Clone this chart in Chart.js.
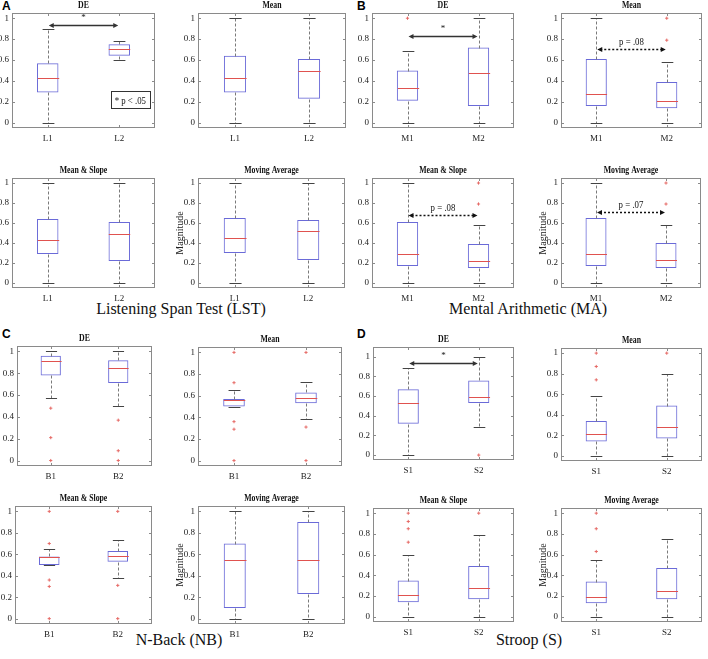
<!DOCTYPE html>
<html>
<head>
<meta charset="utf-8">
<script src="https://cdn.jsdelivr.net/npm/chart.js@4.4.1/dist/chart.umd.min.js"></script>
<style>
  body { margin: 0; width: 708px; height: 659px; background: #fff; position: relative; overflow: hidden; }
  canvas { position: absolute; }
  .letter { position: absolute; font: bold 12px "Liberation Sans", Arial, sans-serif; color: #000; }
  .task { position: absolute; font: 16px "Liberation Serif", serif; color: #111; white-space: nowrap; transform: translateX(-50%); }
</style>
</head>
<body>
<div class="letter" style="left:2px;top:-1px">A</div>
<div class="letter" style="left:357px;top:-1px">B</div>
<div class="letter" style="left:2px;top:327px">C</div>
<div class="letter" style="left:357px;top:327px">D</div>
<div class="task" style="left:181px;top:300px">Listening Span Test (LST)</div>
<div class="task" style="left:528px;top:300px">Mental Arithmetic (MA)</div>
<div class="task" style="left:179px;top:631px">N-Back (NB)</div>
<div class="task" style="left:529px;top:631px">Stroop (S)</div>

<script>
// box stats per group: [lower whisker, q1, median, q3, upper whisker]
const yTicks = [0, 0.2, 0.4, 0.6, 0.8, 1];

const lstCats = ['L1', 'L2'];
const lstDE = [[0.00, 0.29, 0.43, 0.57, 0.90], [0.60, 0.64, 0.71, 0.75, 0.78]];
const lstDEOut = [[], []];
const lstMean = [[0.00, 0.29, 0.43, 0.64, 1.00], [0.00, 0.23, 0.50, 0.61, 1.00]];
const lstMeanOut = [[], []];
const lstMS = [[0.00, 0.29, 0.43, 0.64, 1.00], [0.00, 0.22, 0.49, 0.61, 1.00]];
const lstMSOut = [[], []];
const lstMA = [[0.00, 0.30, 0.45, 0.65, 1.00], [0.00, 0.23, 0.52, 0.63, 1.00]];
const lstMAOut = [[], []];

const maCats = ['M1', 'M2'];
const maDE = [[0.00, 0.21, 0.33, 0.50, 0.69], [0.00, 0.16, 0.48, 0.72, 1.00]];
const maDEOut = [[1.00], []];
const maMean = [[0.00, 0.16, 0.28, 0.61, 1.00], [0.00, 0.14, 0.21, 0.39, 0.58]];
const maMeanOut = [[], [0.79, 1.00]];
const maMS = [[0.00, 0.17, 0.29, 0.61, 1.00], [0.00, 0.15, 0.22, 0.39, 0.58]];
const maMSOut = [[], [0.79, 1.00]];
const maMA = [[0.00, 0.17, 0.29, 0.65, 1.00], [0.00, 0.15, 0.23, 0.40, 0.58]];
const maMAOut = [[], [0.79, 1.00]];

const nbCats = ['B1', 'B2'];
const nbDE = [[0.57, 0.78, 0.91, 0.96, 1.00], [0.50, 0.71, 0.85, 0.92, 1.00]];
const nbDEOut = [[0.48, 0.21, 0.00], [0.37, 0.09, 0.00]];
const nbMean = [[0.50, 0.50, 0.56, 0.57, 0.65], [0.38, 0.53, 0.58, 0.63, 0.73]];
const nbMeanOut = [[1.00, 0.72, 0.36, 0.29, 0.00], [1.00, 0.31, 0.00]];
const nbMS = [[0.50, 0.50, 0.57, 0.58, 0.65], [0.38, 0.53, 0.58, 0.63, 0.73]];
const nbMSOut = [[1.00, 0.70, 0.36, 0.30, 0.00], [1.00, 0.31, 0.00]];
const nbMA = [[0.00, 0.10, 0.55, 0.70, 1.00], [0.00, 0.23, 0.55, 0.90, 1.00]];
const nbMAOut = [[], []];

const stCats = ['S1', 'S2'];
const stDE = [[0.00, 0.32, 0.53, 0.67, 0.89], [0.29, 0.53, 0.59, 0.76, 1.00]];
const stDEOut = [[], [0.00]];
const stMean = [[0.00, 0.14, 0.21, 0.34, 0.58], [0.00, 0.17, 0.28, 0.49, 0.80]];
const stMeanOut = [[0.74, 0.87, 1.00], [1.00]];
const stMS = [[0.00, 0.14, 0.21, 0.35, 0.60], [0.00, 0.17, 0.28, 0.49, 0.79]];
const stMSOut = [[0.72, 0.85, 0.92, 1.00], [1.00]];
const stMA = [[0.00, 0.13, 0.19, 0.34, 0.55], [0.00, 0.17, 0.25, 0.47, 0.75]];
const stMAOut = [[0.63, 0.85, 1.00], []];

// significance arrows: [from group, to group, y value, label]
const lstDESig = [0, 1, 0.94, '*'];
const maDESig = [0, 1, 0.83, '*'];
const maMeanSig = [0, 1, 0.71, 'p = .08'];
const maMSSig = [0, 1, 0.68, 'p = .08'];
const maMASig = [0, 1, 0.71, 'p = .07'];
const stDESig = [0, 1, 0.94, '*'];

const RED = '#e0524f';
const BLUE = '#6a6ad8';
const SERIF = '"Liberation Serif", "Times New Roman", serif';
const crisp = v => Math.round(v) + 0.5;

Chart.defaults.font.family = SERIF;
Chart.defaults.color = '#222';

// text squeezed horizontally, the original figure uses a condensed serif
function narrowText(ctx, text, x, y, sx) {
    ctx.save();
    ctx.translate(x, y);
    ctx.scale(sx, 1);
    ctx.fillText(text, 0, 0);
    ctx.restore();
}

const framePlugin = {
    id: 'frame',
    beforeDatasetsDraw(chart) {
        const { ctx, chartArea: a, scales: { x, y } } = chart;
        ctx.save();
        ctx.strokeStyle = '#8a8a8a';
        ctx.lineWidth = 1;
        ctx.strokeRect(crisp(a.left), crisp(a.top), Math.round(a.right - a.left) - 1, Math.round(a.bottom - a.top) - 1);
        ctx.beginPath();
        y.ticks.forEach(t => {
            const py = crisp(y.getPixelForValue(t.value));
            ctx.moveTo(a.left, py); ctx.lineTo(a.left + 3, py);
            ctx.moveTo(a.right, py); ctx.lineTo(a.right - 3, py);
        });
        x.ticks.forEach((t, i) => {
            const px = crisp(x.getPixelForTick(i));
            ctx.moveTo(px, a.bottom); ctx.lineTo(px, a.bottom - 3);
            ctx.moveTo(px, a.top); ctx.lineTo(px, a.top + 3);
        });
        ctx.stroke();
        ctx.restore();
    }
};

const boxPlugin = {
    id: 'boxParts',
    afterDatasetsDraw(chart, args, opts) {
        const { ctx, scales: { y } } = chart;
        const bars = chart.getDatasetMeta(0).data;
        ctx.save();
        ctx.lineWidth = 1;
        opts.stats.forEach((s, i) => {
            const cx = crisp(bars[i].x);
            const half = bars[i].width / 2;
            const cap = half * 0.55;
            const [lo, q1, med, q3, hi] = s.map(v => crisp(y.getPixelForValue(v)));
            // dashed whiskers
            ctx.strokeStyle = '#7a7a7a';
            ctx.setLineDash([3, 2]);
            ctx.beginPath();
            ctx.moveTo(cx, q3); ctx.lineTo(cx, hi);
            ctx.moveTo(cx, q1); ctx.lineTo(cx, lo);
            ctx.stroke();
            ctx.setLineDash([]);
            // caps
            ctx.strokeStyle = '#444';
            ctx.beginPath();
            ctx.moveTo(cx - cap, hi); ctx.lineTo(cx + cap, hi);
            ctx.moveTo(cx - cap, lo); ctx.lineTo(cx + cap, lo);
            ctx.stroke();
            // median
            ctx.strokeStyle = RED;
            ctx.beginPath();
            ctx.moveTo(cx - half, med); ctx.lineTo(cx + half, med);
            ctx.stroke();
        });
        ctx.restore();
    }
};

const sigPlugin = {
    id: 'sigArrow',
    afterDatasetsDraw(chart, args, opts) {
        const { ctx, chartArea: a, scales: { y } } = chart;
        const bars = chart.getDatasetMeta(0).data;
        ctx.save();
        if (opts.sig) {
            const [i0, i1, val, label] = opts.sig;
            const dotted = label !== '*';
            const py = crisp(y.getPixelForValue(val));
            const x0 = bars[i0].x + 1, x1 = bars[i1].x - 1;
            ctx.strokeStyle = dotted ? '#111' : '#333';
            ctx.fillStyle = ctx.strokeStyle;
            ctx.lineWidth = 1.5;
            ctx.setLineDash(dotted ? [2, 2] : []);
            ctx.beginPath();
            ctx.moveTo(x0 + 3, py); ctx.lineTo(x1 - 3, py);
            ctx.stroke();
            ctx.setLineDash([]);
            ctx.beginPath();
            ctx.moveTo(x0, py); ctx.lineTo(x0 + 5, py - 2.5); ctx.lineTo(x0 + 5, py + 2.5); ctx.closePath();
            ctx.moveTo(x1, py); ctx.lineTo(x1 - 5, py - 2.5); ctx.lineTo(x1 - 5, py + 2.5); ctx.closePath();
            ctx.fill();
            ctx.fillStyle = '#111';
            ctx.textAlign = 'center';
            ctx.textBaseline = 'bottom';
            ctx.font = dotted ? '11px ' + SERIF : '9px ' + SERIF;
            narrowText(ctx, label, (x0 + x1) / 2, py - (dotted ? 2 : 3), dotted ? 0.8 : 1);
        }
        if (opts.note) {
            ctx.font = '11px ' + SERIF;
            const w = ctx.measureText(opts.note).width * 0.8 + 8;
            const right = a.right - 5;
            const top = crisp(y.getPixelForValue(0.30));
            const bottom = crisp(y.getPixelForValue(0.14));
            ctx.strokeStyle = '#333';
            ctx.lineWidth = 1;
            ctx.strokeRect(crisp(right - w), top, Math.round(w), bottom - top);
            ctx.fillStyle = '#111';
            ctx.textAlign = 'center';
            ctx.textBaseline = 'middle';
            narrowText(ctx, opts.note, right - w / 2, (top + bottom) / 2 + 1, 0.8);
        }
        ctx.restore();
    }
};

const titlePlugin = {
    id: 'panelTitle',
    afterDraw(chart, args, opts) {
        const { ctx, chartArea: a } = chart;
        ctx.save();
        ctx.font = 'bold 10px ' + SERIF;
        ctx.fillStyle = '#111';
        ctx.textAlign = 'center';
        ctx.textBaseline = 'bottom';
        narrowText(ctx, opts.text, (a.left + a.right) / 2, a.top - 3, 0.78);
        ctx.restore();
    }
};

const plots = [
    { title: 'DE', cats: lstCats, stats: lstDE, out: lstDEOut, sig: lstDESig, note: '* p < .05', l: 12, r: 155, t: 13, b: 128 },
    { title: 'Mean', cats: lstCats, stats: lstMean, out: lstMeanOut, l: 198, r: 346, t: 13, b: 128 },
    { title: 'DE', cats: maCats, stats: maDE, out: maDEOut, sig: maDESig, l: 372, r: 517, t: 13, b: 128 },
    { title: 'Mean', cats: maCats, stats: maMean, out: maMeanOut, sig: maMeanSig, l: 561, r: 705, t: 13, b: 128 },

    { title: 'Mean & Slope', cats: lstCats, stats: lstMS, out: lstMSOut, l: 12, r: 155, t: 178, b: 288 },
    { title: 'Moving Average', cats: lstCats, stats: lstMA, out: lstMAOut, ylab: true, l: 198, r: 345, t: 178, b: 288 },
    { title: 'Mean & Slope', cats: maCats, stats: maMS, out: maMSOut, sig: maMSSig, l: 372, r: 517, t: 178, b: 288 },
    { title: 'Moving Average', cats: maCats, stats: maMA, out: maMAOut, sig: maMASig, ylab: true, l: 561, r: 704, t: 178, b: 288 },

    { title: 'DE', cats: nbCats, stats: nbDE, out: nbDEOut, l: 17, r: 155, t: 346, b: 466 },
    { title: 'Mean', cats: nbCats, stats: nbMean, out: nbMeanOut, l: 198, r: 345, t: 347, b: 466 },
    { title: 'DE', cats: stCats, stats: stDE, out: stDEOut, sig: stDESig, ymax: 1.1, l: 373, r: 517, t: 347, b: 460 },
    { title: 'Mean', cats: stCats, stats: stMean, out: stMeanOut, l: 561, r: 705, t: 348, b: 461 },

    { title: 'Mean & Slope', cats: nbCats, stats: nbMS, out: nbMSOut, l: 15, r: 155, t: 506, b: 624 },
    { title: 'Moving Average', cats: nbCats, stats: nbMA, out: nbMAOut, ylab: true, l: 198, r: 345, t: 506, b: 624 },
    { title: 'Mean & Slope', cats: stCats, stats: stMS, out: stMSOut, l: 373, r: 517, t: 508, b: 622 },
    { title: 'Moving Average', cats: stCats, stats: stMA, out: stMAOut, ylab: true, l: 561, r: 705, t: 508, b: 622 }
];

function makePlot(p) {
    const yW = p.ylab ? 28 : Math.min(p.l, 22);
    const titleH = 16, xH = 18, padR = 2;
    const w = p.r - p.l + yW + padR;
    const h = p.b - p.t + titleH + xH;
    const canvas = document.createElement('canvas');
    canvas.width = w;
    canvas.height = h;
    canvas.style.left = (p.l - yW) + 'px';
    canvas.style.top = (p.t - titleH) + 'px';
    document.body.appendChild(canvas);

    const outPoints = [];
    p.out.forEach((vals, i) => vals.forEach(v => outPoints.push({ x: p.cats[i], y: v })));

    new Chart(canvas, {
        type: 'bar',
        data: {
            labels: p.cats,
            datasets: [
                {
                    data: p.stats.map(s => [s[1], s[3]]),
                    backgroundColor: 'rgba(0,0,0,0)',
                    borderColor: BLUE,
                    borderWidth: 1,
                    borderSkipped: false,
                    barPercentage: 0.3,
                    categoryPercentage: 1
                },
                {
                    type: 'line',
                    data: outPoints,
                    showLine: false,
                    pointStyle: 'cross',
                    pointRadius: 1.6,
                    borderColor: '#e66a66',
                    borderWidth: 1
                }
            ]
        },
        options: {
            responsive: false,
            animation: false,
            layout: { padding: { top: titleH, right: padR, left: 0, bottom: 0 } },
            plugins: {
                legend: { display: false },
                tooltip: { enabled: false },
                boxParts: { stats: p.stats },
                sigArrow: { sig: p.sig, note: p.note },
                panelTitle: { text: p.title }
            },
            scales: {
                x: {
                    grid: { display: false, drawTicks: false },
                    border: { display: false },
                    ticks: { font: { family: SERIF, size: 9 }, padding: 5, color: '#222' },
                    afterFit: s => { s.height = xH; }
                },
                y: {
                    min: -0.05,
                    max: p.ymax || 1.05,
                    grid: { display: false, drawTicks: false },
                    border: { display: false },
                    afterBuildTicks: s => { s.ticks = yTicks.map(v => ({ value: v })); },
                    ticks: {
                        font: { family: SERIF, size: 9 },
                        padding: 3,
                        color: '#222',
                        callback: v => String(+v.toFixed(1))
                    },
                    title: {
                        display: !!p.ylab,
                        text: 'Magnitude',
                        font: { family: SERIF, size: 10 },
                        color: '#222',
                        padding: { top: 4, bottom: 0 }
                    },
                    afterFit: s => { s.width = yW; }
                }
            }
        },
        plugins: [framePlugin, boxPlugin, sigPlugin, titlePlugin]
    });
}

plots.forEach(makePlot);
</script>
</body>
</html>
